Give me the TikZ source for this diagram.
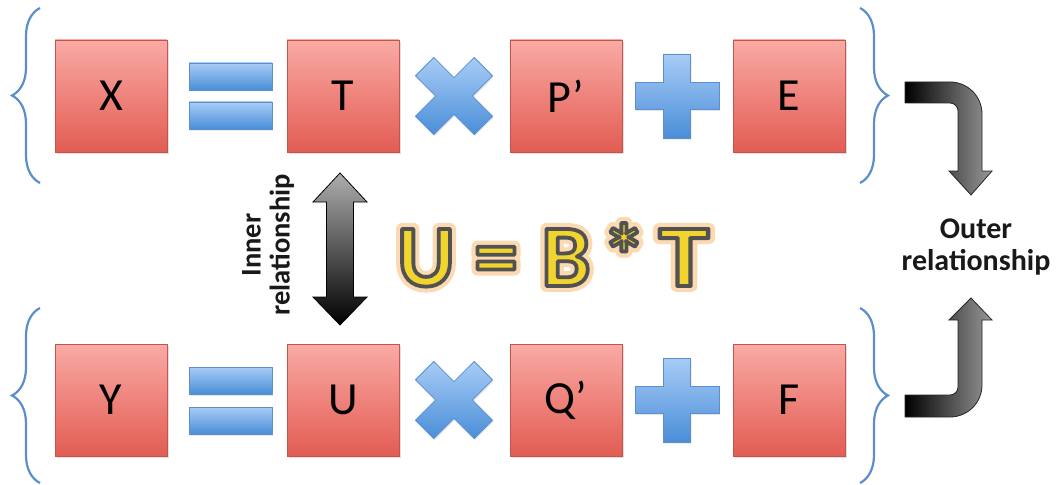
\documentclass[tikz,border=0pt]{standalone}
\usepackage{fontspec}
\setmainfont{Carlito}
\usetikzlibrary{decorations.pathreplacing,shadows}
\definecolor{boxtop}{RGB}{250,170,165}
\definecolor{boxbot}{RGB}{226,92,82}
\definecolor{boxline}{RGB}{196,84,78}
\definecolor{optop}{RGB}{168,204,246}
\definecolor{opbot}{RGB}{74,142,216}
\definecolor{opline}{RGB}{92,142,208}
\definecolor{braceblue}{RGB}{92,142,204}
\definecolor{eqyellow}{RGB}{242,212,46}
\definecolor{eqglow}{RGB}{245,160,60}

% stroked glyphs: #1 render mode, #2 line width, #3 stroke colour (pdf RG), #4 text
\newcommand\strokedtext[4]{%
  \special{pdf:literal direct 1 j #1 Tr #2 w #3 RG}#4\special{pdf:literal direct 0 Tr}}

\tikzset{
  plusop/.pic={
    \path[opshape] (-13.5,-42) -- (13.5,-42) -- (13.5,-13.5) -- (42,-13.5) -- (42,13.5)
      -- (13.5,13.5) -- (13.5,42) -- (-13.5,42) -- (-13.5,13.5) -- (-42,13.5)
      -- (-42,-13.5) -- (-13.5,-13.5) -- cycle;
  },
  crossop/.pic={
    \path[opshape] (38.5,-20.2) -- (18.4,0) -- (38.5,20.2) -- (20.2,38.5) -- (0,18.4)
      -- (-20.2,38.5) -- (-38.5,20.2) -- (-18.4,0) -- (-38.5,-20.2) -- (-20.2,-38.5)
      -- (0,-18.4) -- (20.2,-38.5) -- cycle;
  },
}

\begin{document}
\begin{tikzpicture}[
  x=1pt,y=-1pt,
  mbox/.style={draw=boxline,line width=0.8pt,top color=boxtop,bottom color=boxbot,
               minimum width=112pt,minimum height=112pt,inner sep=0pt,
               font=\fontsize{46}{50}\selectfont,
               drop shadow={opacity=0.25,shadow xshift=1.5pt,shadow yshift=-2pt}},
  opshape/.style={draw=opline,line width=0.8pt,top color=optop,bottom color=opbot,
                  drop shadow={opacity=0.2,shadow xshift=1pt,shadow yshift=-1.5pt}},
  opbar/.style={opshape,minimum width=83pt,minimum height=27pt,inner sep=0pt},
  curly/.style={draw=braceblue,line width=2.2pt,decorate,decoration={brace,amplitude=28pt}},
  bent/.style={draw=black!85,line width=0.8pt,left color=black,right color=black!40},
  label/.style={font=\fontsize{30}{32}\selectfont\bfseries,align=center,text=black!90},
  glyph/.style={font=\fontsize{88}{90}\selectfont\bfseries,inner sep=0pt,anchor=base},
]
  \useasboundingbox (0,0) rectangle (1056,484);

  % Braces
  \draw[curly] (40,183) -- (40,8);
  \draw[curly] (860,8) -- (860,183);
  \draw[curly] (40,483) -- (40,308);
  \draw[curly] (860,308) -- (860,483);

  % Top row: X = T x P' + E
  \node[mbox] (x) at (111,96) {X};
  \node[opbar] (eqa) at (230.5,76.5) {};
  \node[opbar] (eqb) at (230.5,115.5) {};
  \node[mbox] (t) at (343,96) {T};
  \pic at (454,96) {crossop};
  \node[mbox] (p) at (566,96) {P’};
  \pic at (677,96) {plusop};
  \node[mbox] (e) at (789,96) {E};

  % Bottom row: Y = U x Q' + F
  \node[mbox] (y) at (111,400) {Y};
  \node[opbar] (eqc) at (230.5,380.5) {};
  \node[opbar] (eqd) at (230.5,420.5) {};
  \node[mbox] (u) at (343,400) {U};
  \pic at (454,400) {crossop};
  \node[mbox] (q) at (566,400) {Q’};
  \pic at (677,400) {plusop};
  \node[mbox] (f) at (789,400) {F};

  % Inner relationship
  \path[draw=black,line width=0.8pt,top color=black!32,bottom color=black]
    (340,173) -- (367,202) -- (353.5,202) -- (353.5,297) -- (367,297) -- (340,325)
    -- (313,297) -- (326.5,297) -- (326.5,202) -- (313,202) -- cycle;
  \node[label,rotate=90,font=\fontsize{28.5}{29}\selectfont\bfseries] (inner) at (268,245)
    {Inner\\relationship};

  % U = B * T, glow behind a dark rim
  \foreach \g/\gx/\gs [count=\i] in {U/426/1,=/496/1,B/566/1,*/624/1,T/684/1.15} {
    \node[glyph,text=eqglow,opacity=0.4,xscale=\gs] (glow\i) at (\gx,286)
      {\strokedtext{2}{12}{0.96 0.63 0.24}{\g}};
    \node[glyph,text=eqyellow,xscale=\gs] (eq\i) at (\gx,286)
      {\strokedtext{2}{3.8}{0.32 0.32 0.32}{\g}};
  }

  % Outer relationship
  \path[bent] (905,82) -- (950,82) .. controls (967.7,82) and (982,96.3) .. (982,114)
    -- (982,171) -- (992,171) -- (971,195) -- (949,171) -- (958,171) -- (958,111)
    .. controls (958,106.6) and (954.4,103) .. (950,103) -- (905,103) -- cycle;
  \path[bent] (905,417) -- (950,417) .. controls (967.7,417) and (982,402.7) .. (982,385)
    -- (982,320) -- (992,320) -- (971,298) -- (949,320) -- (958,320) -- (958,387)
    .. controls (958,391.4) and (954.4,395) .. (950,395) -- (905,395) -- cycle;
  \node[label] (outer) at (976,247) {Outer\\relationship};
\end{tikzpicture}
\end{document}
